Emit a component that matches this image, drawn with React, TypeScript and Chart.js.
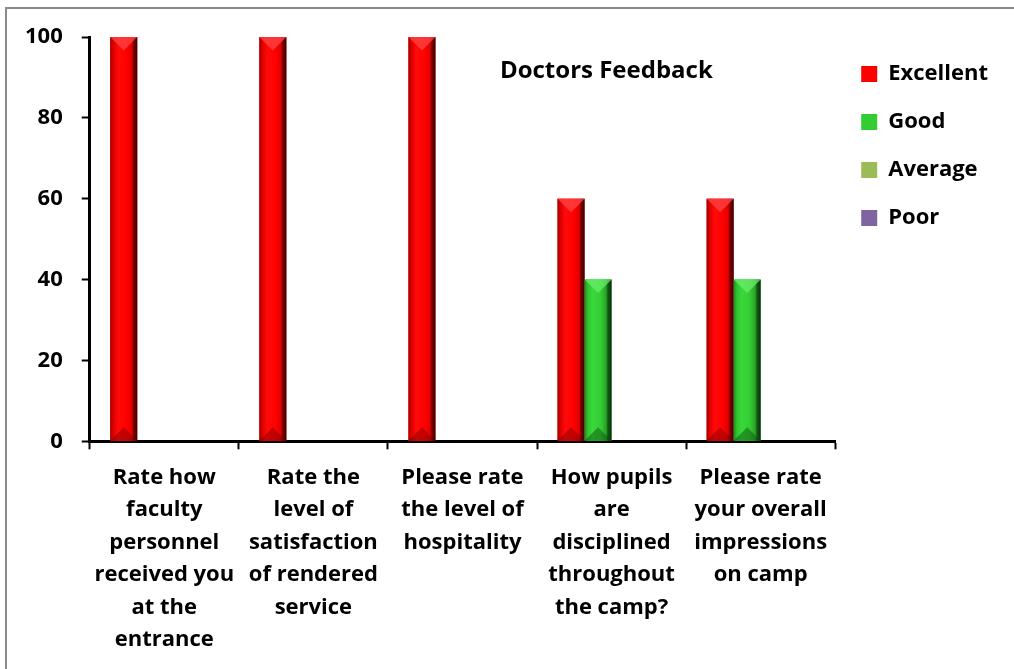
import React, { useEffect, useRef } from "react";
import { Chart, registerables } from "chart.js";

Chart.register(...registerables);

const categories: string[][] = [
  ["Rate how", "faculty", "personnel", "received you", "at the", "entrance"],
  ["Rate the", "level of", "satisfaction", "of rendered", "service"],
  ["Please rate", "the level of", "hospitality"],
  ["How pupils", "are", "disciplined", "throughout", "the camp?"],
  ["Please rate", "your overall", "impressions", "on camp"],
];

const excellent = [100, 100, 100, 60, 60];
const good = [0, 0, 0, 40, 40];
const average = [0, 0, 0, 0, 0];
const poor = [0, 0, 0, 0, 0];

const seriesNames = ["Excellent", "Good", "Average", "Poor"];
const seriesColors = ["#ff0000", "#33cc33", "#9bbb59", "#8064a2"];
const chartTitle = "Doctors Feedback";

const FONT = "'Open Sans', 'Noto Sans', sans-serif";

const bevelStyles: Record<number, { stops: [number, string][]; top: string; bottom: string }> = {
  0: {
    stops: [
      [0, "#a00000"],
      [0.12, "#e00000"],
      [0.3, "#ff0a0a"],
      [0.6, "#ff0000"],
      [0.8, "#e00000"],
      [0.86, "#800000"],
      [1, "#3a0000"],
    ],
    top: "rgba(255,70,70,0.75)",
    bottom: "rgba(120,0,0,0.45)",
  },
  1: {
    stops: [
      [0, "#1e8a1e"],
      [0.12, "#2ec42e"],
      [0.3, "#3ad83a"],
      [0.6, "#33cc33"],
      [0.8, "#26a326"],
      [0.86, "#145a14"],
      [1, "#0a300a"],
    ],
    top: "rgba(110,240,110,0.7)",
    bottom: "rgba(10,70,10,0.45)",
  },
};

const bevelPlugin = {
  id: "bevel",
  afterDatasetsDraw(chart: any) {
    const ctx: CanvasRenderingContext2D = chart.ctx;
    chart.data.datasets.forEach((ds: any, di: number) => {
      const style = bevelStyles[di];
      if (!style) return;
      const meta = chart.getDatasetMeta(di);
      meta.data.forEach((el: any) => {
        const { x, y, base, width } = el.getProps(["x", "y", "base", "width"], true);
        const h = base - y;
        if (h <= 1) return;
        const l = x - width / 2;
        const r = x + width / 2;
        ctx.save();
        const g = ctx.createLinearGradient(l, 0, r, 0);
        style.stops.forEach(([o, c]) => g.addColorStop(o, c));
        ctx.fillStyle = g;
        ctx.fillRect(l, y, width, h);
        const tri = Math.min(width / 2, h / 2);
        ctx.fillStyle = style.top;
        ctx.beginPath();
        ctx.moveTo(l, y);
        ctx.lineTo(r, y);
        ctx.lineTo(x, y + tri);
        ctx.closePath();
        ctx.fill();
        ctx.fillStyle = style.bottom;
        ctx.beginPath();
        ctx.moveTo(l, base);
        ctx.lineTo(r, base);
        ctx.lineTo(x, base - tri);
        ctx.closePath();
        ctx.fill();
        ctx.restore();
      });
    });
  },
};

const titlePlugin = {
  id: "insideTitle",
  afterDraw(chart: any) {
    const { ctx, chartArea } = chart;
    ctx.save();
    ctx.font = `bold 24px ${FONT}`;
    ctx.fillStyle = "#000";
    ctx.textAlign = "center";
    ctx.textBaseline = "middle";
    const cx = chartArea.left + (chartArea.right - chartArea.left) * 0.693;
    const cy = chartArea.top + (chartArea.bottom - chartArea.top) * 0.084;
    ctx.fillText(chartTitle, cx, cy);
    ctx.restore();
  },
};

export default function App() {
  const ref = useRef<HTMLCanvasElement | null>(null);

  useEffect(() => {
    if (!ref.current) return;
    const values = [excellent, good, average, poor];
    const chart = new Chart(ref.current, {
      type: "bar",
      data: {
        labels: categories,
        datasets: seriesNames.map((name, i) => ({
          label: name,
          data: values[i],
          backgroundColor: seriesColors[i],
          borderWidth: 0,
          barPercentage: 1,
          categoryPercentage: 0.725,
        })),
      },
      options: {
        animation: false,
        responsive: true,
        maintainAspectRatio: false,
        layout: { padding: { left: 6, right: 16, top: 37, bottom: 1 } },
        plugins: {
          title: { display: false },
          tooltip: { enabled: false },
          legend: {
            position: "right",
            align: "start",
            labels: {
              boxWidth: 16,
              boxHeight: 16,
              padding: 26,
              color: "#000",
              font: { family: FONT, size: 22, weight: "bold" },
            },
          },
        },
        scales: {
          x: {
            grid: {
              drawOnChartArea: false,
              drawTicks: true,
              tickLength: 8,
              tickWidth: 2,
              tickColor: "#000",
            },
            border: { display: true, width: 3, color: "#000" },
            ticks: {
              color: "#000",
              maxRotation: 0,
              autoSkip: false,
              padding: 12,
              font: { family: FONT, size: 22, weight: "bold", lineHeight: 1.475 },
            },
          },
          y: {
            min: 0,
            max: 100,
            grid: {
              drawOnChartArea: false,
              drawTicks: true,
              tickLength: 8,
              tickWidth: 2,
              tickColor: "#000",
            },
            border: { display: true, width: 3, color: "#000" },
            ticks: {
              stepSize: 20,
              color: "#000",
              padding: 19,
              font: { family: FONT, size: 22, weight: "bold" },
            },
          },
        },
      },
      plugins: [bevelPlugin, titlePlugin],
    });
    return () => chart.destroy();
  }, []);

  return (
    <div style={{ position: "absolute", left: 0, top: 0, width: 1014, height: 669, background: "#fff", overflow: "hidden" }}>
      <div
        style={{
          position: "absolute",
          left: 5,
          top: 7,
          width: 1020,
          height: 700,
          borderLeft: "2px solid #8a8a8a",
          borderTop: "2px solid #8a8a8a",
        }}
      />
      <div style={{ position: "absolute", left: 0, top: 0, width: 1014, height: 669 }}>
        <canvas ref={ref} />
      </div>
    </div>
  );
}
